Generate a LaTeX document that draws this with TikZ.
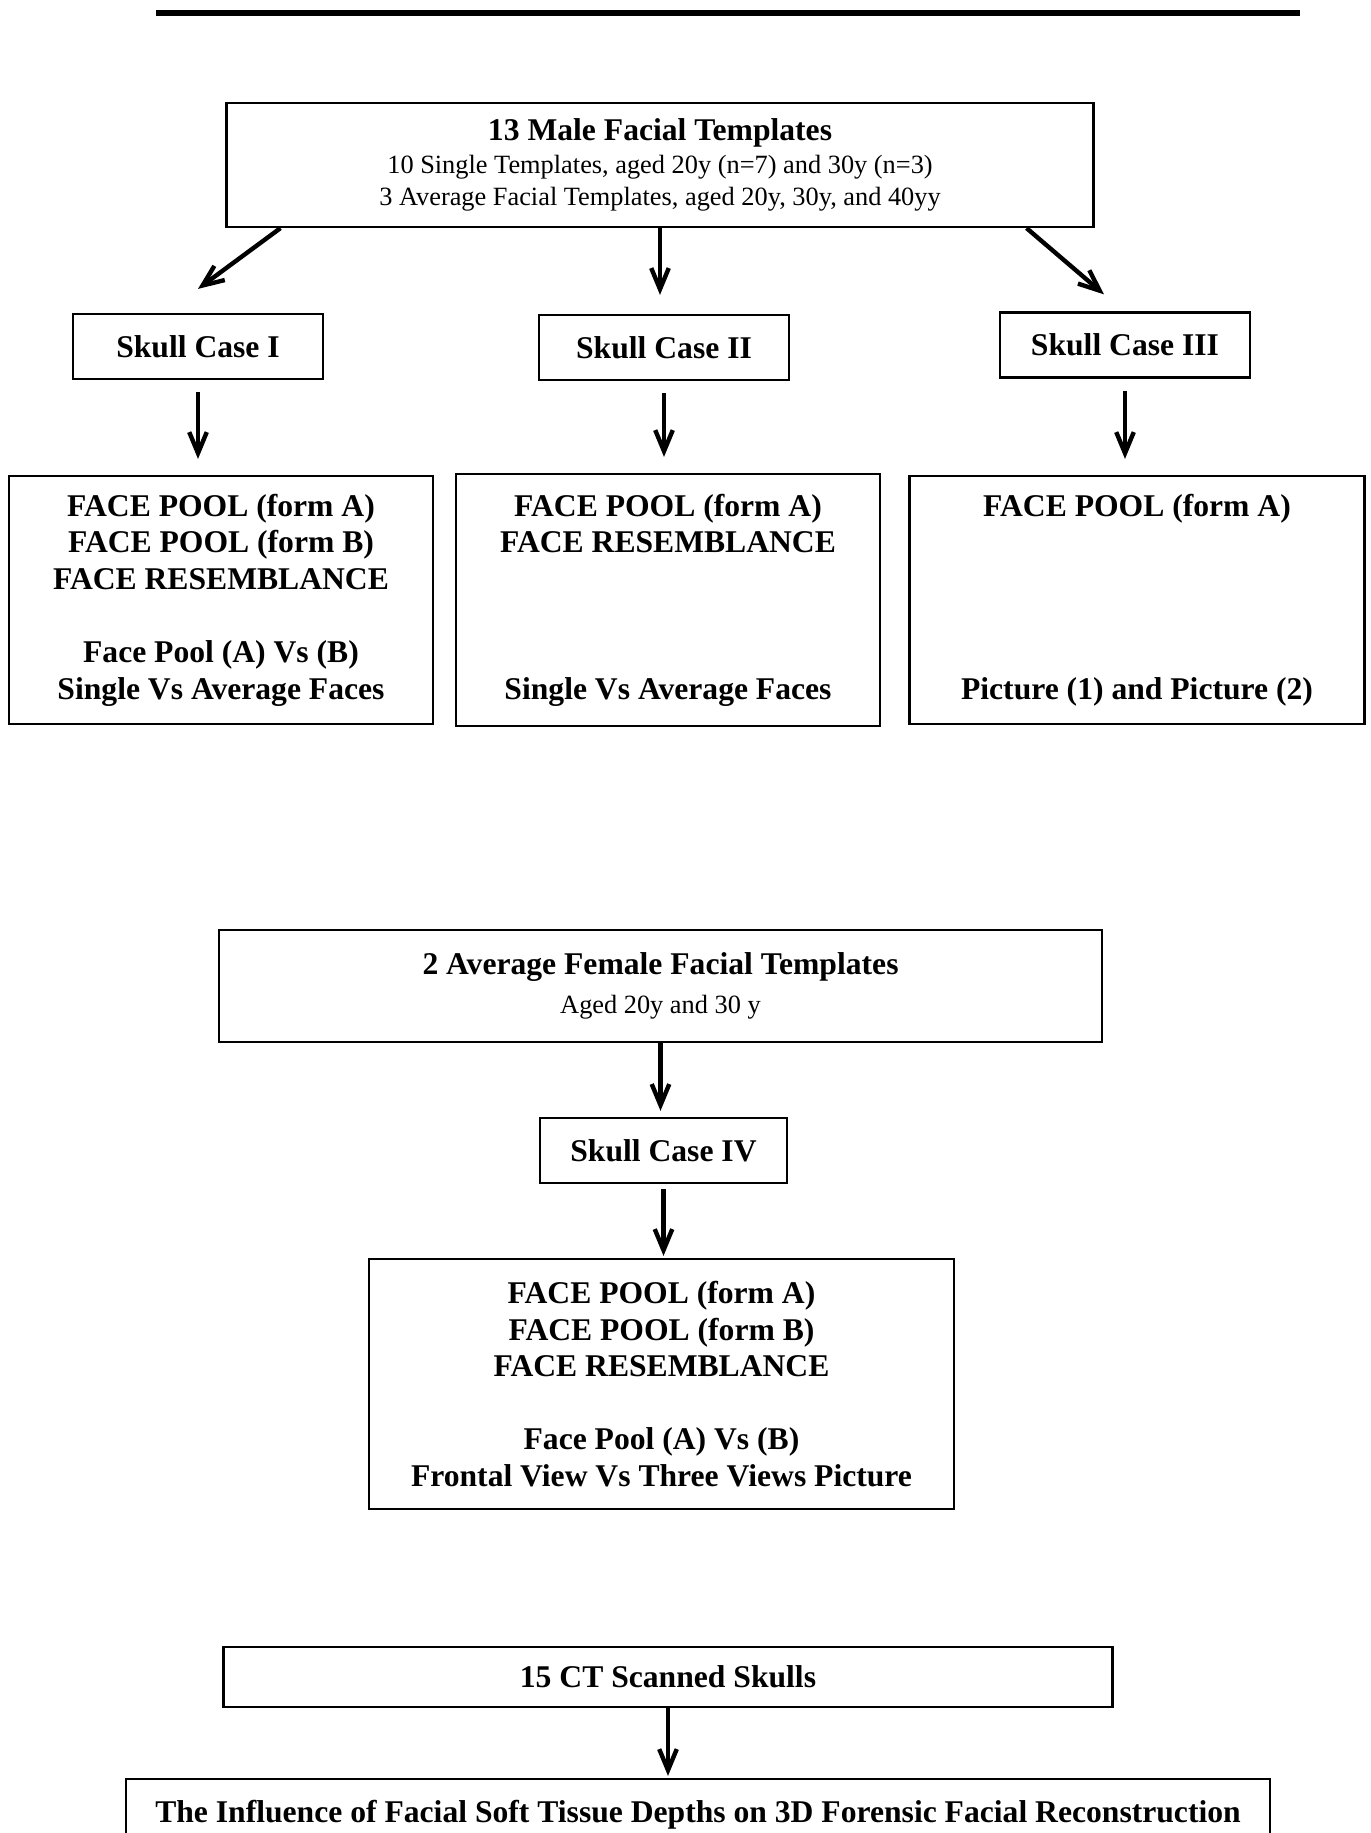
\documentclass[tikz,border=0pt]{standalone}
\usepackage{fontspec}
\setmainfont{Liberation Serif}
\usetikzlibrary{arrows.meta}

\tikzset{
    flowbox/.style={draw, line width=1.3pt, align=center, inner sep=0pt,
        font=\bfseries\fontsize{18}{20.8}\selectfont},
    arr/.style={line width=2.5pt, -{Straight Barb[length=12pt,width=10pt]}}
}

\begin{document}
\begin{tikzpicture}[x=0.02cm, y=-0.02cm]
    % Page frame
    \useasboundingbox (0,0) rectangle (1370,1833);
    \clip (0,0) rectangle (1370,1833);

    % Rule at the top
    \draw[line width=3pt] (156,13) -- (1300,13);

    % Male templates
    \node[flowbox, minimum width=17.34cm, minimum height=2.48cm,
        font=\fontsize{15}{18.5}\selectfont] (male) at (660,165)
        {{\bfseries\fontsize{18}{18.5}\selectfont 13 Male Facial Templates}\\
         10 Single Templates, aged 20y (n=7) and 30y (n=3)\\
         3 Average Facial Templates, aged 20y, 30y, and 40yy};

    % Skull cases
    \node[flowbox, minimum width=5cm, minimum height=1.3cm] (skI) at (198,346.5) {Skull Case I};
    \node[flowbox, minimum width=5cm, minimum height=1.3cm] (skII) at (664,347.5) {Skull Case II};
    \node[flowbox, minimum width=5cm, minimum height=1.3cm] (skIII) at (1125,345) {Skull Case III};

    % Face pools
    \node[flowbox, minimum width=8.48cm, minimum height=4.96cm] (faceI) at (221,600)
        {FACE POOL (form A)\\ FACE POOL (form B)\\ FACE RESEMBLANCE\\ ~\\
         Face Pool (A) Vs (B)\\ Single Vs Average Faces};
    \node[flowbox, minimum width=8.48cm, minimum height=5.04cm] (faceII) at (668,600)
        {FACE POOL (form A)\\ FACE RESEMBLANCE\\ ~\\ ~\\ ~\\ Single Vs Average Faces};
    \node[flowbox, minimum width=9.1cm, minimum height=4.96cm] (faceIII) at (1137,600)
        {FACE POOL (form A)\\ ~\\ ~\\ ~\\ ~\\ Picture (1) and Picture (2)};

    % Arrows of the male part
    \draw[arr] ([xshift=1.1cm]male.south west) -- ([yshift=0.48cm]skI.north);
    \draw[arr, shorten >=0.38cm] (male.south) -- (male.south |- skII.north);
    \draw[arr] ([xshift=-1.36cm]male.south east) -- ([xshift=-0.42cm,yshift=0.34cm]skIII.north);
    \draw[arr, shorten <=0.24cm, shorten >=0.32cm] (skI.south) -- (skI.south |- faceI.north);
    \draw[arr, shorten <=0.24cm, shorten >=0.32cm] (skII.south) -- (skII.south |- faceII.north);
    \draw[arr, shorten <=0.24cm, shorten >=0.32cm] (skIII.south) -- (skIII.south |- faceIII.north);

    % Female templates
    \node[flowbox, minimum width=17.66cm, minimum height=2.24cm,
        font=\fontsize{15}{18}\selectfont] (female) at (660.5,986)
        {{\bfseries\fontsize{18}{18}\selectfont 2 Average Female Facial Templates}\\[4pt]
         Aged 20y and 30 y};
    \node[flowbox, minimum width=4.94cm, minimum height=1.3cm] (skIV) at (663.5,1150.5) {Skull Case IV};
    \node[flowbox, minimum width=11.7cm, minimum height=5cm] (faceIV) at (661.5,1384)
        {FACE POOL (form A)\\ FACE POOL (form B)\\ FACE RESEMBLANCE\\ ~\\
         Face Pool (A) Vs (B)\\ Frontal View Vs Three Views Picture};
    \draw[arr, shorten >=0.12cm] (female.south) -- (female.south |- skIV.north);
    \draw[arr, shorten <=0.1cm, shorten >=0.04cm] (skIV.south) -- (skIV.south |- faceIV.north);

    % CT skulls
    \node[flowbox, minimum width=17.78cm, minimum height=1.2cm] (ct) at (668,1677) {15 CT Scanned Skulls};
    \node[flowbox, minimum width=22.88cm, minimum height=1.44cm] (infl) at (698,1815)
        {The Influence of Facial Soft Tissue Depths on 3D Forensic Facial Reconstruction};
    \draw[arr, shorten >=0.04cm] (ct.south) -- (ct.south |- infl.north);

\end{tikzpicture}
\end{document}
